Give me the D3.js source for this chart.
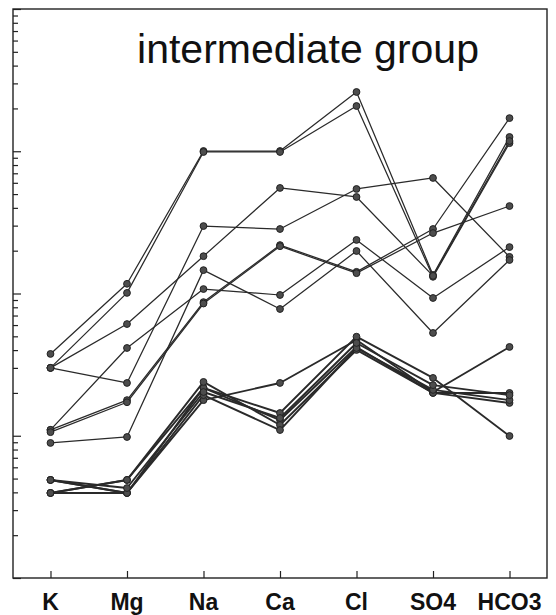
<!DOCTYPE html>
<html><head><meta charset="utf-8">
<script src="https://cdn.jsdelivr.net/npm/d3@7"></script>
<style>body{margin:0;background:#fff}</style>
</head><body>
<svg id="c" width="556" height="615"></svg>
<script>
const categories = ["K","Mg","Na","Ca","Cl","SO4","HCO3"];
const title = "intermediate group";
const yMajorTicks = [0.01, 0.1, 1, 10, 100];

// upper samples
const lineA = [0.376, 1.17, 10.04, 10.04, 26.1, 1.35, 12.6];
const lineB = [0.300, 1.01, 9.88, 9.88, 20.8, 1.31, 11.4];
const lineC = [0.300, 0.61, 1.83, 5.52, 4.77, 1.33, 11.8];
const lineD = [0.300, 0.235, 2.98, 2.84, 5.43, 6.49, 1.81];
const lineE = [0.110, 0.414, 1.075, 0.976, 2.38, 0.93, 2.12];
const lineF = [0.110, 0.178, 0.87, 2.19, 1.42, 2.84, 17.1];
const lineH = [0.106, 0.172, 0.85, 2.15, 1.39, 2.66, 4.12];
const lineG = [0.089, 0.098, 1.46, 0.778, 1.99, 0.528, 1.72];
// lower samples
const lineL1 = [0.0489, 0.0396, 0.178, 0.235, 0.471, 0.203, 0.421];
const lineL2 = [0.0489, 0.0396, 0.217, 0.1445, 0.497, 0.255, 0.0996];
const lineL3 = [0.0396, 0.0489, 0.217, 0.129, 0.421, 0.200, 0.200];
const lineL4 = [0.0396, 0.0489, 0.239, 0.119, 0.401, 0.200, 0.170];
const lineL5 = [0.0396, 0.0396, 0.193, 0.1097, 0.414, 0.210, 0.178];
const lineL6 = [0.0489, 0.0429, 0.203, 0.1333, 0.449, 0.227, 0.193];

const upperLines = [lineA, lineB, lineC, lineD, lineE, lineF, lineH, lineG];
const lowerLines = [lineL1, lineL2, lineL3, lineL4, lineL5, lineL6];

const svg = d3.select("#c");
const L = 13, R = 547, T = 9, B = 578;
const x = d3.scalePoint().domain(categories).range([L, R]).padding(0.49);
const y = d3.scaleLog().domain([0.01, 100]).range([B, T]);

svg.append("rect").attr("width",556).attr("height",615).attr("fill","#fff");

// left ticks
const allTicks = y.ticks();
const isMajor = t => Math.abs(Math.log10(t) - Math.round(Math.log10(t))) < 1e-9;
const minorTicks = allTicks.filter(t => !isMajor(t));
const gMinor = svg.append("g").attr("transform",`translate(${L},0)`)
  .call(d3.axisRight(y).tickValues(minorTicks).tickSize(5).tickFormat(""));
const gMajor = svg.append("g").attr("transform",`translate(${L},0)`)
  .call(d3.axisRight(y).tickValues(yMajorTicks).tickSize(8).tickFormat(""));
[gMinor,gMajor].forEach(g=>{g.select(".domain").remove(); g.selectAll("line").attr("stroke","#222").attr("stroke-width",1.2);});

// bottom ticks
const gx = svg.append("g").attr("transform",`translate(0,${B})`)
  .call(d3.axisTop(x).tickSize(7).tickFormat(""));
gx.select(".domain").remove();
gx.selectAll("line").attr("stroke","#222").attr("stroke-width",1.2);

// frame
svg.append("rect").attr("x",L).attr("y",T).attr("width",R-L).attr("height",B-T)
  .attr("fill","none").attr("stroke","#222").attr("stroke-width",1.4);

// title
svg.append("text").attr("x",(L+R)/2+28).attr("y",63).attr("text-anchor","middle")
  .attr("font-family","Liberation Sans, Arial, sans-serif").attr("font-size",41)
  .attr("fill","#111").text(title);

// labels
svg.append("g").selectAll("text").data(categories).join("text")
  .attr("x",d=>x(d)).attr("y",610).attr("text-anchor","middle")
  .attr("font-family","Liberation Sans, Arial, sans-serif").attr("font-weight","bold")
  .attr("font-size",23).attr("fill","#111").text(d=>d);

const line = d3.line().x((d,i)=>x(categories[i])).y(d=>y(d));

function drawSeries(data, sw) {
  const g = svg.append("g");
  g.selectAll("path").data(data).join("path")
    .attr("d", line).attr("fill","none").attr("stroke","#2a2a2a").attr("stroke-width",sw)
    .attr("stroke-linejoin","round");
  data.forEach(s => {
    g.append("g").selectAll("circle").data(s).join("circle")
      .attr("cx",(d,i)=>x(categories[i])).attr("cy",d=>y(d)).attr("r",3.4)
      .attr("fill","#4d4d4d").attr("stroke","#222").attr("stroke-width",1);
  });
}
drawSeries(upperLines, 1.25);
drawSeries(lowerLines, 1.9);
</script>
</body></html>
